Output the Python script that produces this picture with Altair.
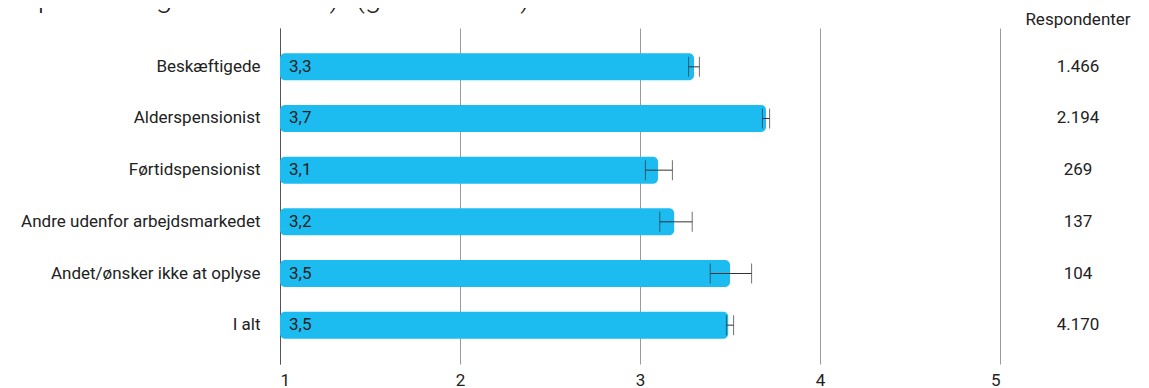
import altair as alt
import pandas as pd

categories = ["Beskæftigede", "Alderspensionist", "Førtidspensionist",
              "Andre udenfor arbejdsmarkedet", "Andet/ønsker ikke at oplyse", "I alt"]
means = [3.30, 3.70, 3.10, 3.19, 3.50, 3.49]
err_lo = [3.27, 3.68, 3.03, 3.11, 3.39, 3.48]
err_hi = [3.33, 3.72, 3.18, 3.29, 3.62, 3.52]
value_labels = ["3,3", "3,7", "3,1", "3,2", "3,5", "3,5"]
respondents = ["1.466", "2.194", "269", "137", "104", "4.170"]
x_ticks = [1, 2, 3, 4, 5]
title_text = 'mellem almen praksis og kommunen)" (gennemsnit)'

df = pd.DataFrame({
    "cat": categories, "mean": means, "lo": err_lo, "hi": err_hi,
    "lab": value_labels, "n": respondents,
})

FONT = "Roboto"
BAR = "#1CBCF1"
FS = 17

y = alt.Y("cat:N", sort=categories, title=None,
          scale=alt.Scale(paddingInner=0.477, paddingOuter=0.49),
          axis=alt.Axis(labelFont=FONT, labelFontSize=FS, labelColor="#222",
                        labelPadding=20, labelLimit=500, ticks=False, domain=True,
                        domainColor="#555", grid=False))
xscale = alt.Scale(domain=[1, 5], nice=False, zero=False)
xaxis = alt.Axis(values=x_ticks, labelFont=FONT, labelFontSize=FS, labelColor="#222",
                 labelPadding=8, ticks=False, domain=False, grid=True,
                 gridColor="#9a9a9a", gridWidth=1, title=None, format="d")

base = alt.Chart(df)

bars = base.mark_bar(color=BAR, cornerRadiusEnd=5).encode(
    y=y,
    x=alt.X("mean:Q", scale=xscale, axis=xaxis),
    x2=alt.datum(1),
)

labels = base.mark_text(align="left", dx=9, font=FONT, fontSize=FS, color="#222").encode(
    y=alt.Y("cat:N", sort=categories),
    x=alt.datum(1),
    text="lab:N",
)

err = base.mark_rule(color="#333", strokeWidth=1).encode(
    y=alt.Y("cat:N", sort=categories),
    x=alt.X("lo:Q"), x2="hi:Q",
)
cap_lo = base.mark_tick(color="#333", thickness=1, size=20).encode(
    y=alt.Y("cat:N", sort=categories), x=alt.X("lo:Q"))
cap_hi = base.mark_tick(color="#333", thickness=1, size=20).encode(
    y=alt.Y("cat:N", sort=categories), x=alt.X("hi:Q"))

resp = base.mark_text(align="center", font=FONT, fontSize=FS, color="#222").encode(
    y=alt.Y("cat:N", sort=categories),
    x=alt.value(798),
    text="n:N",
)
resp_head = alt.Chart(pd.DataFrame({"t": ["Respondenter"]})).mark_text(
    align="center", font=FONT, fontSize=FS, color="#222").encode(
    x=alt.value(798), y=alt.value(-8), text="t:N")

title = alt.Chart(pd.DataFrame({"t": [title_text]})).mark_text(
    align="right", baseline="alphabetic", font=FONT, fontSize=30, fontWeight=300,
    color="#222").encode(x=alt.value(250), y=alt.value(-21), text="t:N")

chart = alt.layer(bars, err, cap_lo, cap_hi, labels, resp, resp_head, title).properties(
    width=720, height=336,
    autosize=alt.AutoSizeParams(type="none"),
    padding={"left": 272, "top": 20, "right": 141, "bottom": 24},
).configure(background="white").configure_view(stroke=None)

chart.save("out.html", embed_options={"renderer": "svg", "actions": False})
